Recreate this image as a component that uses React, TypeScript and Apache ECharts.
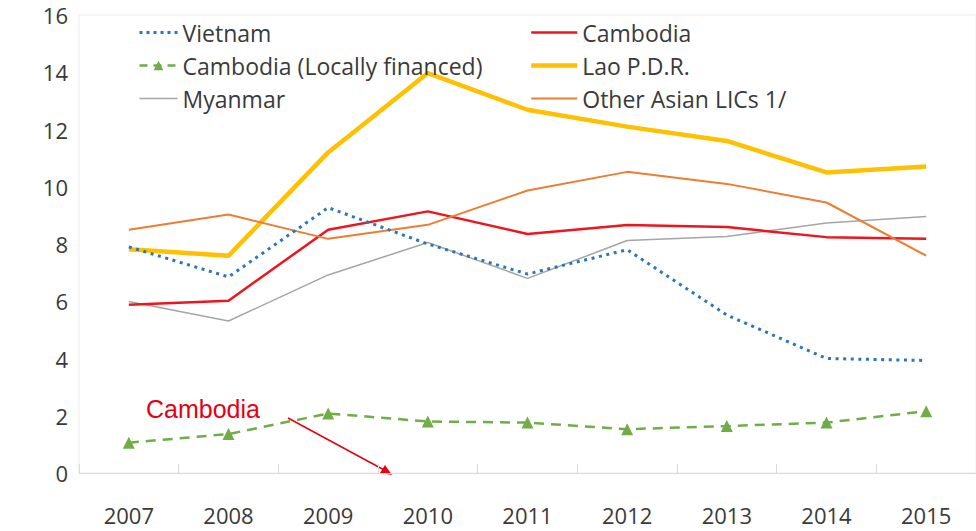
import React, { useEffect, useRef } from "react";
import * as echarts from "echarts";

const years = ["2007", "2008", "2009", "2010", "2011", "2012", "2013", "2014", "2015"];
const vietnam = [7.9, 6.85, 9.27, 8.0, 6.95, 7.8, 5.52, 4.0, 3.93];
const cambodia = [5.88, 6.02, 8.5, 9.14, 8.35, 8.66, 8.59, 8.24, 8.18];
const cambodiaLocal = [1.06, 1.36, 2.08, 1.8, 1.76, 1.53, 1.64, 1.76, 2.16];
const lao = [7.82, 7.59, 11.2, 13.97, 12.69, 12.1, 11.6, 10.5, 10.71];
const myanmar = [5.99, 5.31, 6.92, 8.05, 6.8, 8.12, 8.26, 8.73, 8.96];
const otherLICs = [8.5, 9.03, 8.18, 8.67, 9.87, 10.52, 10.1, 9.45, 7.59];

const FONT = "'Open Sans', 'Noto Sans', sans-serif";

export default function App() {
  const ref = useRef<HTMLDivElement>(null);
  useEffect(() => {
    if (!ref.current) return;
    const chart = echarts.init(ref.current, undefined, { renderer: "svg" });
    const legendText = { fontSize: 23, color: "#3a3a3a", fontFamily: FONT };
    const hidden = { opacity: 0 };
    chart.setOption({
      animation: false,
      backgroundColor: "#ffffff",
      grid: {
        left: 79,
        top: 15,
        width: 900,
        bottom: 58,
        show: true,
        borderColor: "#ededed",
        borderWidth: 1,
      },
      legend: [
        {
          orient: "vertical",
          left: 133,
          top: 16,
          itemWidth: 38,
          itemHeight: 12,
          itemGap: 10,
          textStyle: legendText,
          data: [
            { name: "Vietnam", itemStyle: hidden, lineStyle: { width: 3, type: [3, 4] } },
            { name: "Cambodia (Locally financed)", lineStyle: { width: 2.5, type: [8, 6] } },
            { name: "Myanmar", itemStyle: hidden, lineStyle: { width: 1.5 } },
          ],
        },
        {
          orient: "vertical",
          left: 524,
          top: 16,
          itemWidth: 46,
          itemHeight: 12,
          itemGap: 10,
          textStyle: legendText,
          data: [
            { name: "Cambodia", itemStyle: hidden, lineStyle: { width: 2.5 } },
            { name: "Lao P.D.R.", itemStyle: hidden, lineStyle: { width: 4.5 } },
            { name: "Other Asian LICs 1/", itemStyle: hidden, lineStyle: { width: 2 } },
          ],
        },
      ],
      xAxis: {
        type: "category",
        data: years,
        boundaryGap: true,
        axisLine: { show: true, lineStyle: { color: "#d9d9d9", width: 1 } },
        axisTick: { show: true, inside: true, length: 9, lineStyle: { color: "#d9d9d9" } },
        axisLabel: { fontSize: 22, color: "#3a3a3a", fontFamily: FONT, margin: 31 },
        splitLine: { show: false },
      },
      yAxis: {
        type: "value",
        min: 0,
        max: 16,
        interval: 2,
        axisLine: { show: false },
        axisTick: { show: false },
        axisLabel: { fontSize: 22, color: "#3a3a3a", fontFamily: FONT, margin: 11 },
        splitLine: { show: false },
      },
      series: [
        {
          name: "Vietnam",
          type: "line",
          data: vietnam,
          symbol: "none",
          z: 5,
          itemStyle: { color: "#2E75B6" },
          lineStyle: { color: "#2E75B6", width: 3, type: [3, 4.6] },
        },
        {
          name: "Cambodia (Locally financed)",
          type: "line",
          data: cambodiaLocal,
          symbol: "triangle",
          symbolSize: 12,
          itemStyle: { color: "#70AD47" },
          lineStyle: { color: "#70AD47", width: 2.5, type: [10, 7] },
        },
        {
          name: "Myanmar",
          type: "line",
          data: myanmar,
          symbol: "none",
          itemStyle: { color: "#A5A5A5" },
          lineStyle: { color: "#A5A5A5", width: 1.5 },
        },
        {
          name: "Cambodia",
          type: "line",
          data: cambodia,
          symbol: "none",
          itemStyle: { color: "#F0141E" },
          lineStyle: { color: "#F0141E", width: 2.5 },
        },
        {
          name: "Lao P.D.R.",
          type: "line",
          data: lao,
          symbol: "none",
          itemStyle: { color: "#FFC000" },
          lineStyle: { color: "#FFC000", width: 4.5 },
        },
        {
          name: "Other Asian LICs 1/",
          type: "line",
          data: otherLICs,
          symbol: "none",
          itemStyle: { color: "#ED7D31" },
          lineStyle: { color: "#ED7D31", width: 2 },
        },
      ],
      graphic: [
        {
          type: "text",
          left: 146,
          top: 396,
          style: {
            text: "Cambodia",
            fill: "#E60012",
            fontSize: 25,
            fontFamily: "'Liberation Sans', Arial, sans-serif",
          },
        },
        {
          type: "line",
          shape: { x1: 288, y1: 418, x2: 386, y2: 471 },
          style: { stroke: "#E60012", lineWidth: 1.5 },
        },
        {
          type: "polygon",
          shape: { points: [[392, 475], [380, 473], [385, 465]] },
          style: { fill: "#E60012" },
        },
      ],
    });
    return () => chart.dispose();
  }, []);
  return <div ref={ref} style={{ width: 976, height: 531, position: "absolute", left: 0, top: 0 }} />;
}
